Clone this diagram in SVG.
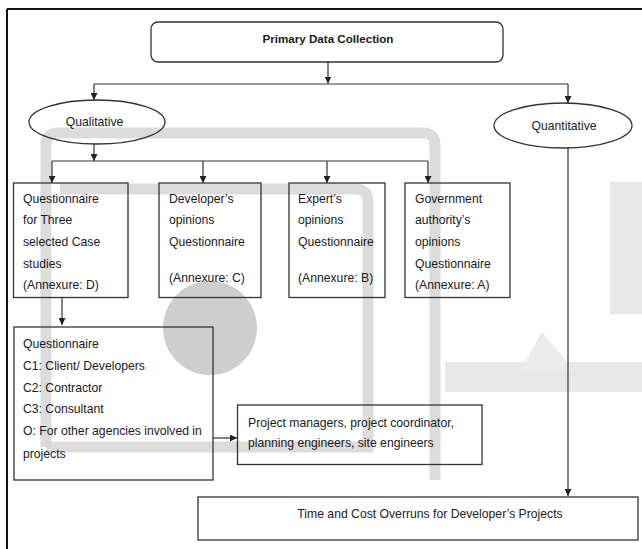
<svg xmlns="http://www.w3.org/2000/svg" width="642" height="549" viewBox="0 0 642 549">
<style>
  .t { font-family: "Liberation Sans", Arial, sans-serif; font-size: 12.2px; fill: #1a1a1a; }
  .b { font-family: "Liberation Sans", Arial, sans-serif; font-size: 11.6px; font-weight: bold; fill: #1a1a1a; }
  .box { fill: none; stroke: #333; stroke-width: 1.3; }
  .ln { fill: none; stroke: #333; stroke-width: 1.2; }
  .wm { fill: none; stroke: #d6d6d6; stroke-width: 11; opacity: 0.85; }
</style>
<defs>
  <marker id="ah" viewBox="0 0 8 8" refX="8" refY="4" markerWidth="7" markerHeight="7" markerUnits="userSpaceOnUse" orient="auto">
    <path d="M0,0 L8,4 L0,8 z" fill="#222"/>
  </marker>
</defs>
<rect x="0" y="0" width="642" height="549" fill="#fff"/>
<g id="watermark">
  <path class="wm" d="M46,447 V145 Q46,133 58,133 H423 Q435,133 435,145 V480"/>
  <path class="wm" d="M60,189 H355 Q368,189 368,202 V447 H46"/>
  <circle cx="210" cy="328" r="47" fill="#c9c9c9" opacity="0.9"/>
  <rect x="610" y="182" width="32" height="132" fill="#e8e8e8"/>
  <rect x="445" y="362" width="197" height="30" fill="#e8e8e8"/>
  <polygon points="542,332 576,372 520,372" fill="#ebebeb"/>
</g>
<g id="frame">
  <path d="M7,9 H642 M7,9 V549" fill="none" stroke="#111" stroke-width="2"/>
</g>
<g id="connectors">
  <path class="ln" d="M328,62 V83.5" marker-end="url(#ah)"/>
  <path class="ln" d="M94,84 H568"/>
  <path class="ln" d="M94,84 V100" marker-end="url(#ah)"/>
  <path class="ln" d="M568,84 V103" marker-end="url(#ah)"/>
  <path class="ln" d="M94,144 V161" marker-end="url(#ah)"/>
  <path class="ln" d="M52,161 H428"/>
  <path class="ln" d="M52,161 V183" marker-end="url(#ah)"/>
  <path class="ln" d="M203,161 V183" marker-end="url(#ah)"/>
  <path class="ln" d="M327,161 V183" marker-end="url(#ah)"/>
  <path class="ln" d="M428,161 V183" marker-end="url(#ah)"/>
  <path class="ln" d="M62,297 V325" marker-end="url(#ah)"/>
  <path class="ln" d="M213,438 H237" marker-end="url(#ah)"/>
  <path class="ln" d="M568,148 V496" marker-end="url(#ah)"/>
</g>
<g id="primary">
  <rect class="box" x="151" y="22" width="352" height="40" rx="7"/>
  <text class="b" x="328" y="43" text-anchor="middle">Primary Data Collection</text>
</g>
<g id="qualitative">
  <ellipse class="box" cx="97" cy="122" rx="68" ry="22"/>
  <text class="t" x="94.5" y="125.5" text-anchor="middle">Qualitative</text>
</g>
<g id="quantitative">
  <ellipse class="box" cx="563" cy="125.5" rx="69" ry="22.5"/>
  <text class="t" x="564" y="129.5" text-anchor="middle">Quantitative</text>
</g>
<g id="case-studies">
  <rect class="box" x="13.5" y="183" width="114.5" height="114.5"/>
  <text class="t" x="23" y="202.5">Questionnaire</text>
  <text class="t" x="23" y="224.2">for Three</text>
  <text class="t" x="23" y="245.9">selected Case</text>
  <text class="t" x="23" y="267.6">studies</text>
  <text class="t" x="23" y="289.3">(Annexure: D)</text>
</g>
<g id="developer">
  <rect class="box" x="159" y="183" width="102" height="114.5"/>
  <text class="t" x="169" y="202.5">Developer’s</text>
  <text class="t" x="169" y="224.2">opinions</text>
  <text class="t" x="169" y="245.9">Questionnaire</text>
  <text class="t" x="169" y="281.5">(Annexure: C)</text>
</g>
<g id="expert">
  <rect class="box" x="289" y="183" width="96" height="114.5"/>
  <text class="t" x="298" y="202.5">Expert’s</text>
  <text class="t" x="298" y="224.2">opinions</text>
  <text class="t" x="298" y="245.9">Questionnaire</text>
  <text class="t" x="298" y="281.5">(Annexure: B)</text>
</g>
<g id="government">
  <rect class="box" x="405" y="183" width="105" height="114.5"/>
  <text class="t" x="415" y="202.5">Government</text>
  <text class="t" x="415" y="224.2">authority’s</text>
  <text class="t" x="415" y="245.9">opinions</text>
  <text class="t" x="415" y="267.6">Questionnaire</text>
  <text class="t" x="415" y="289.3">(Annexure: A)</text>
</g>
<g id="questionnaire">
  <rect class="box" x="14" y="327" width="199" height="153"/>
  <text class="t" x="23" y="347.5">Questionnaire</text>
  <text class="t" x="23" y="369.5">C1: Client/ Developers</text>
  <text class="t" x="23" y="391.5">C2: Contractor</text>
  <text class="t" x="23" y="412.5">C3: Consultant</text>
  <text class="t" x="23" y="434.5">O: For other agencies involved in</text>
  <text class="t" x="23" y="457.5">projects</text>
</g>
<g id="managers">
  <rect class="box" x="237.5" y="405" width="244.5" height="59.5"/>
  <text class="t" x="248" y="427">Project managers, project coordinator,</text>
  <text class="t" x="248" y="447">planning engineers, site engineers</text>
</g>
<g id="overruns">
  <rect class="box" x="198" y="497" width="440" height="43"/>
  <text class="t" x="430" y="517.5" text-anchor="middle">Time and Cost Overruns for Developer’s Projects</text>
</g>
</svg>
